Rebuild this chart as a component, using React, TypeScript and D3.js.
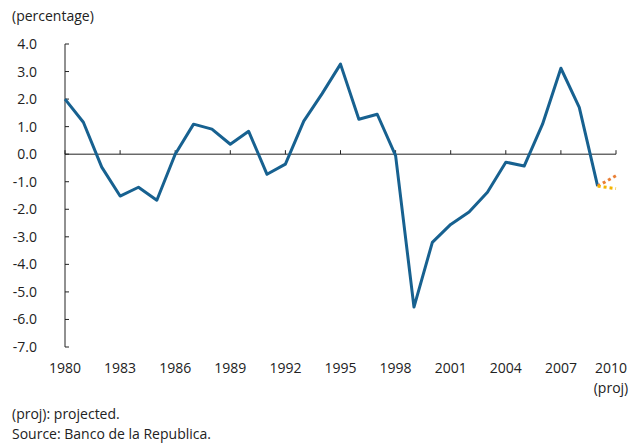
import React from "react";
import * as d3 from "d3";

const years = [1980, 1981, 1982, 1983, 1984, 1985, 1986, 1987, 1988, 1989, 1990, 1991, 1992, 1993, 1994, 1995, 1996, 1997, 1998, 1999, 2000, 2001, 2002, 2003, 2004, 2005, 2006, 2007, 2008, 2009];
const values = [2.0, 1.16, -0.47, -1.52, -1.2, -1.67, 0.0, 1.09, 0.91, 0.36, 0.83, -0.73, -0.36, 1.2, 2.2, 3.27, 1.27, 1.45, -0.05, -5.55, -3.2, -2.55, -2.1, -1.38, -0.29, -0.43, 1.09, 3.12, 1.7, -1.16];
const projHigh = [{ year: 2009, value: -1.16 }, { year: 2010, value: -0.78 }];
const projLow = [{ year: 2009, value: -1.16 }, { year: 2010, value: -1.25 }];
const yTicks = [4, 3, 2, 1, 0, -1, -2, -3, -4, -5, -6, -7];
const xTicks = [1980, 1983, 1986, 1989, 1992, 1995, 1998, 2001, 2004, 2007, 2010];

const W = 629;
const H = 447;
const font = "'Open Sans', 'DejaVu Sans', sans-serif";

export default function App() {
  const x = d3.scaleLinear().domain([1980, 2010]).range([65, 616]);
  const y = d3.scaleLinear().domain([-7, 4]).range([347, 44]);

  const line = d3
    .line<{ year: number; value: number }>()
    .x((d) => x(d.year))
    .y((d) => y(d.value));

  const main = years.map((yr, i) => ({ year: yr, value: values[i] }));

  return (
    <svg width={W} height={H} style={{ position: "absolute", left: 0, top: 0 }} fontFamily={font}>
      <rect width={W} height={H} fill="#fff" />
      <text x={12} y={21} fontSize={14} fill="#222">(percentage)</text>

      {/* y axis */}
      <line x1={x(1980)} x2={x(1980)} y1={y(4)} y2={y(-7)} stroke="#222" strokeWidth={1} />
      {yTicks.map((t) => (
        <g key={t}>
          <line x1={x(1980)} x2={x(1980) + 4} y1={y(t)} y2={y(t)} stroke="#222" strokeWidth={1} />
          <text x={37} y={y(t) + 5} fontSize={14} textAnchor="end" fill="#222">
            {t.toFixed(1)}
          </text>
        </g>
      ))}

      {/* zero line */}
      <line x1={x(1980)} x2={x(2010)} y1={y(0)} y2={y(0)} stroke="#222" strokeWidth={1} />
      {xTicks.map((t) => (
        <g key={t}>
          <line x1={x(t)} x2={x(t)} y1={y(0)} y2={y(0) - 4} stroke="#222" strokeWidth={1} />
          <text x={t === 2010 ? 611 : x(t)} y={373} fontSize={14} textAnchor="middle" fill="#222">
            {t}
          </text>
        </g>
      ))}
      <text x={611} y={393} fontSize={14} textAnchor="middle" fill="#222">(proj)</text>

      <path d={line(main) ?? ""} fill="none" stroke="#176190" strokeWidth={3} strokeLinejoin="round" />
      <path d={line(projHigh) ?? ""} fill="none" stroke="#e97f35" strokeWidth={3} strokeDasharray="3 3" />
      <path d={line(projLow) ?? ""} fill="none" stroke="#f4b400" strokeWidth={3} strokeDasharray="3 3" />

      <text x={12} y={419} fontSize={14} fill="#222">(proj): projected.</text>
      <text x={12} y={439} fontSize={14} fill="#222">Source: Banco de la Republica.</text>
    </svg>
  );
}
